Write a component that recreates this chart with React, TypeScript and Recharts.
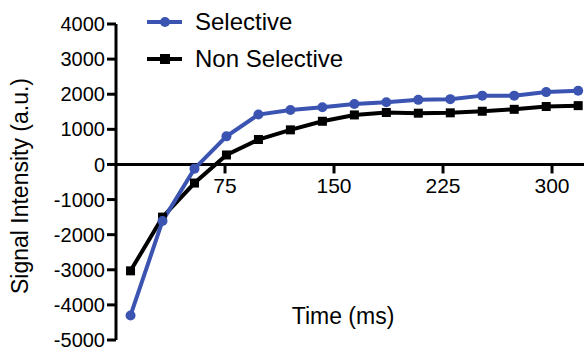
import React from 'react';
import { LineChart, Line, XAxis, YAxis, ReferenceLine } from 'recharts';

// sampling times (ms)
const times = [10, 32, 54, 76, 98, 120, 142, 164, 186, 208, 230, 252, 274, 296, 318];
const selective = [-4300, -1610, -120, 800, 1420, 1550, 1630, 1720, 1770, 1840, 1860, 1960, 1960, 2060, 2100];
const nonSelective = [-3030, -1500, -530, 270, 710, 985, 1230, 1410, 1480, 1460, 1470, 1515, 1570, 1650, 1675];
const xTicks = [75, 150, 225, 300];
const yTicks = [-5000, -4000, -3000, -2000, -1000, 0, 1000, 2000, 3000, 4000];
const seriesNames = ['Selective', 'Non Selective'];

const W = 584;
const H = 350;
const X_AXIS_H = 30;
const M = { top: 24, right: 0, bottom: 10 - X_AXIS_H, left: 0 };
const Y_MIN = -5000;
const Y_MAX = 4000;
const BLUE = '#3b54b2';
const FONT = '"Liberation Sans", Arial, sans-serif';

const data = times.map((t, i) => ({ t, selective: selective[i], nonSelective: nonSelective[i] }));

// x axis sits on y = 0, not at the bottom
const plotH = H - M.top - (M.bottom + X_AXIS_H);
const zeroY = M.top + (plotH * Y_MAX) / (Y_MAX - Y_MIN);

const XTick = (props: any) => {
  const { x, payload } = props;
  return (
    <g>
      <line x1={x} x2={x} y1={zeroY} y2={zeroY + 9} stroke="#000" strokeWidth={3} />
      <text x={x} y={zeroY + 29} textAnchor="middle" fontSize={21} fontFamily={FONT} fill="#000">
        {payload.value}
      </text>
    </g>
  );
};

const SquareDot = (props: any) => {
  const { cx, cy, index } = props;
  return <rect key={`sq-${index}`} x={cx - 4.5} y={cy - 4.5} width={9} height={9} fill="#000" />;
};

const CircleDot = (props: any) => {
  const { cx, cy, index } = props;
  return <circle key={`c-${index}`} cx={cx} cy={cy} r={5} fill={BLUE} />;
};

const LegendBox = () => {
  const items = [
    { name: seriesNames[0], color: BLUE, square: false },
    { name: seriesNames[1], color: '#000', square: true },
  ];
  return (
    <svg width={240} height={80} style={{ position: 'absolute', left: 145, top: 8 }}>
      {items.map((it, i) => {
        const cy = 14 + i * 37;
        return (
          <g key={it.name}>
            <line x1={2} x2={37} y1={cy} y2={cy} stroke={it.color} strokeWidth={4} />
            {it.square ? (
              <rect x={15} y={cy - 5} width={10} height={10} fill={it.color} />
            ) : (
              <circle cx={20} cy={cy} r={5} fill={it.color} />
            )}
            <text x={50} y={cy + 8} fontSize={24} fontFamily={FONT} fill="#000">
              {it.name}
            </text>
          </g>
        );
      })}
    </svg>
  );
};

export default function App() {
  return (
    <div style={{ position: 'absolute', left: 0, top: 0, width: W, height: H, background: '#fff' }}>
      <LineChart width={W} height={H} data={data} margin={M}>
        <XAxis
          dataKey="t"
          type="number"
          domain={[0, 322]}
          ticks={xTicks}
          axisLine={false}
          tickLine={false}
          tick={<XTick />}
          height={X_AXIS_H}
        />
        <YAxis
          type="number"
          domain={[Y_MIN, Y_MAX]}
          ticks={yTicks}
          interval={0}
          width={116}
          axisLine={{ stroke: '#000', strokeWidth: 3 }}
          tickLine={{ stroke: '#000', strokeWidth: 3 }}
          tickSize={9}
          tickMargin={2}
          tick={{ fontSize: 20, fontFamily: FONT, fill: '#000' }}
          label={{
            content: (p: any) => {
              const vb = p.viewBox;
              const cy = vb.y + vb.height / 2 + 4;
              return (
                <text
                  x={28}
                  y={cy}
                  transform={`rotate(-90 28 ${cy})`}
                  textAnchor="middle"
                  fontSize={23}
                  fontFamily={FONT}
                  fill="#000"
                >
                  Signal Intensity (a.u.)
                </text>
              );
            },
          }}
        />
        <ReferenceLine y={0} stroke="#000" strokeWidth={3} />
        <Line
          dataKey="nonSelective"
          stroke="#000"
          strokeWidth={4}
          dot={<SquareDot />}
          isAnimationActive={false}
        />
        <Line
          dataKey="selective"
          stroke={BLUE}
          strokeWidth={4}
          dot={<CircleDot />}
          isAnimationActive={false}
        />
      </LineChart>
      <LegendBox />
      <div
        style={{
          position: 'absolute',
          left: 343,
          top: 303,
          transform: 'translateX(-50%)',
          fontSize: 23,
          fontFamily: FONT,
          whiteSpace: 'nowrap',
        }}
      >
        Time (ms)
      </div>
    </div>
  );
}
